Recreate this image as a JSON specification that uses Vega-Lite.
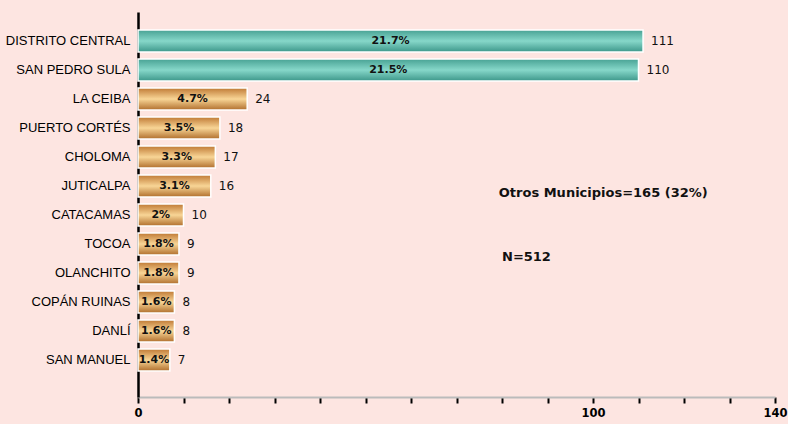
{
  "$schema": "https://vega.github.io/schema/vega-lite/v6.json",
  "width": 637,
  "height": 385,
  "autosize": {"type": "none"},
  "padding": {"left": 138, "top": 12, "right": 13, "bottom": 27},
  "background": "#fde5e1",
  "config": {"view": {"stroke": null}},
  "data": {
    "values": [
      {"municipio": "DISTRITO CENTRAL", "n": 111, "pct": "21.7%"},
      {"municipio": "SAN PEDRO SULA", "n": 110, "pct": "21.5%"},
      {"municipio": "LA CEIBA", "n": 24, "pct": "4.7%"},
      {"municipio": "PUERTO CORTÉS", "n": 18, "pct": "3.5%"},
      {"municipio": "CHOLOMA", "n": 17, "pct": "3.3%"},
      {"municipio": "JUTICALPA", "n": 16, "pct": "3.1%"},
      {"municipio": "CATACAMAS", "n": 10, "pct": "2%"},
      {"municipio": "TOCOA", "n": 9, "pct": "1.8%"},
      {"municipio": "OLANCHITO", "n": 9, "pct": "1.8%"},
      {"municipio": "COPÁN RUINAS", "n": 8, "pct": "1.6%"},
      {"municipio": "DANLÍ", "n": 8, "pct": "1.6%"},
      {"municipio": "SAN MANUEL", "n": 7, "pct": "1.4%"}
    ]
  },
  "encoding": {
    "y": {
      "field": "municipio",
      "type": "nominal",
      "sort": null,
      "scale": {
        "domain": ["DISTRITO CENTRAL", "SAN PEDRO SULA", "LA CEIBA", "PUERTO CORTÉS", "CHOLOMA", "JUTICALPA", "CATACAMAS", "TOCOA", "OLANCHITO", "COPÁN RUINAS", "DANLÍ", "SAN MANUEL"],
        "paddingInner": 0.24, "paddingOuter": 0.758, "align": 0.41
      },
      "axis": {
        "title": null,
        "ticks": false,
        "domainColor": "#000000",
        "domainWidth": 2.5,
        "labelFont": "Liberation Sans",
        "labelFontSize": 13,
        "labelColor": "#000000",
        "labelPadding": 8
      }
    }
  },
  "layer": [
    {
      "transform": [{"filter": "datum.n < 100"}],
      "mark": {
        "type": "bar",
        "stroke": "#ffffff",
        "strokeWidth": 1.5,
        "color": {
          "gradient": "linear", "x1": 0, "y1": 0, "x2": 0, "y2": 1,
          "stops": [
            {"offset": 0, "color": "#c07a35"},
            {"offset": 0.5, "color": "#f8d596"},
            {"offset": 1, "color": "#b06e2c"}
          ]
        }
      },
      "encoding": {
        "x": {
          "field": "n",
          "type": "quantitative",
          "scale": {"domain": [0, 140], "nice": false},
          "axis": {
            "title": null,
            "values": [0, 10, 20, 30, 40, 50, 60, 70, 80, 90, 100, 110, 120, 130, 140],
            "labelExpr": "datum.value == 0 || datum.value == 100 || datum.value == 140 ? datum.label : ''",
            "grid": false,
            "domainColor": "#bbbbbb",
            "domainWidth": 2,
            "tickColor": "#000000",
            "tickSize": 6,
            "tickWidth": 2,
            "labelFont": "DejaVu Sans",
            "labelFontWeight": "bold",
            "labelFontSize": 11.5,
            "labelColor": "#000000",
            "labelPadding": 4,
            "labelFlush": false
          }
        }
      }
    },
    {
      "transform": [{"filter": "datum.n >= 100"}],
      "mark": {
        "type": "bar",
        "stroke": "#ffffff",
        "strokeWidth": 1.5,
        "color": {
          "gradient": "linear", "x1": 0, "y1": 0, "x2": 0, "y2": 1,
          "stops": [
            {"offset": 0, "color": "#48a294"},
            {"offset": 0.5, "color": "#86d7c9"},
            {"offset": 1, "color": "#3d978a"}
          ]
        }
      },
      "encoding": {
        "x": {"field": "n", "type": "quantitative"}
      }
    },
    {
      "transform": [{"calculate": "datum.n / 2", "as": "mid"}],
      "mark": {"type": "text", "font": "DejaVu Sans", "fontWeight": "bold", "fontSize": 11, "color": "#111111", "align": "center", "baseline": "middle"},
      "encoding": {
        "x": {"field": "mid", "type": "quantitative"},
        "text": {"field": "pct"}
      }
    },
    {
      "mark": {"type": "text", "font": "DejaVu Sans", "fontSize": 12, "color": "#111111", "align": "left", "baseline": "middle", "dx": 8},
      "encoding": {
        "x": {"field": "n", "type": "quantitative"},
        "text": {"field": "n"}
      }
    },
    {
      "data": {"values": [{"t": "Otros Municipios=165 (32%)"}]},
      "mark": {"type": "text", "font": "DejaVu Sans", "fontWeight": "bold", "fontSize": 13, "color": "#111111", "align": "left", "baseline": "middle", "dy": 7},
      "encoding": {
        "x": {"datum": 79.3},
        "y": {"datum": "JUTICALPA"},
        "text": {"field": "t"}
      }
    },
    {
      "data": {"values": [{"t": "N=512"}]},
      "mark": {"type": "text", "font": "DejaVu Sans", "fontWeight": "bold", "fontSize": 13, "color": "#111111", "align": "left", "baseline": "middle", "dy": 13},
      "encoding": {
        "x": {"datum": 80},
        "y": {"datum": "TOCOA"},
        "text": {"field": "t"}
      }
    }
  ]
}
